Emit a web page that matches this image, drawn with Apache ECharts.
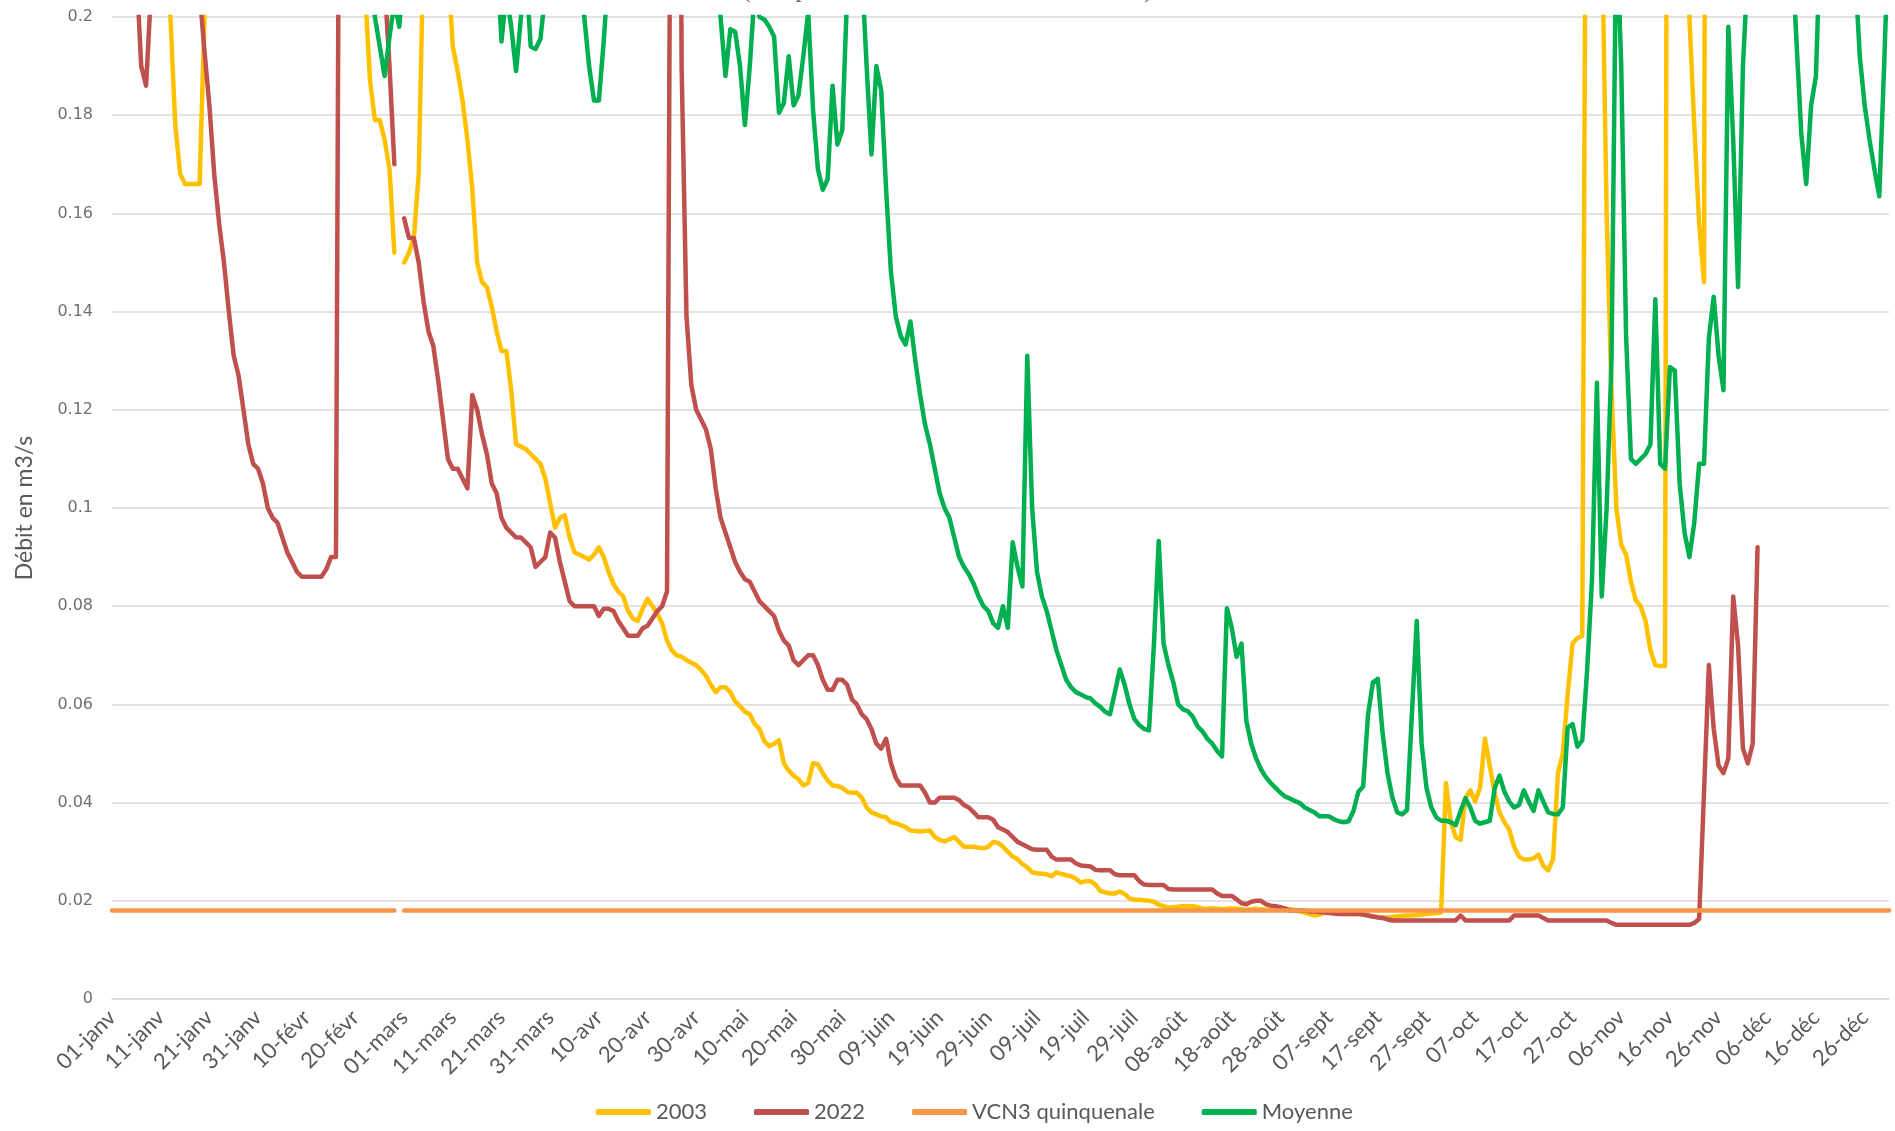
<!DOCTYPE html>
<html>
<head>
    <meta charset="utf-8">
    <title>Débits journaliers</title>
    <script src="https://cdn.jsdelivr.net/npm/echarts@6.0.0/dist/echarts.min.js"></script>
    <style>
        html, body { margin: 0; padding: 0; background: #ffffff; }
        #chart { width: 1895px; height: 1131px; }
    </style>
</head>
<body>
<div id="chart"></div>
<script>
    // mois de l'année (bissextile : le 29-févr est présent, sans valeur pour 2003 / 2022)
    var monthNames = ['janv', 'févr', 'mars', 'avr', 'mai', 'juin', 'juil', 'août', 'sept', 'oct', 'nov', 'déc'];
    var monthDays = [31, 29, 31, 30, 31, 30, 31, 31, 30, 31, 30, 31];

    var seriesNames = ['2003', '2022', 'VCN3 quinquenale', 'Moyenne'];

    // débits journaliers en m3/s (01-janv -> 31-déc), 10 valeurs par ligne
    var q2003 = [
        0.32, 0.3, 0.29, 0.28, 0.27, 0.26, 0.26, 0.25, 0.24, 0.24,
        0.235, 0.225, 0.2, 0.178, 0.168, 0.166, 0.166, 0.166, 0.166, 0.2,
        0.24, 0.28, 0.32, 0.36, 0.4, 0.42, 0.4, 0.38, 0.36, 0.34,
        0.33, 0.32, 0.31, 0.3, 0.3, 0.29, 0.28, 0.28, 0.27, 0.27,
        0.26, 0.26, 0.25, 0.25, 0.24, 0.24, 0.235, 0.23, 0.23, 0.225,
        0.22, 0.215, 0.205, 0.187, 0.179, 0.179, 0.175, 0.169, 0.152, null,
        0.15, 0.152, 0.155, 0.168, 0.215, 0.26, 0.28, 0.27, 0.24, 0.21,
        0.194, 0.189, 0.183, 0.175, 0.165, 0.15, 0.146, 0.145, 0.141, 0.136,
        0.132, 0.132, 0.124, 0.113, 0.1125, 0.112, 0.111, 0.11, 0.109, 0.106,
        0.101, 0.096, 0.098, 0.0985, 0.094, 0.091, 0.0905, 0.09, 0.0895, 0.0905,
        0.092, 0.09, 0.087, 0.0845, 0.083, 0.082, 0.079, 0.0775, 0.077, 0.0795,
        0.0815, 0.08, 0.0785, 0.0765, 0.073, 0.071, 0.07, 0.0697, 0.069, 0.0685,
        0.068, 0.067, 0.0658, 0.064, 0.0625, 0.0635, 0.0635, 0.0625, 0.0606, 0.0596,
        0.0585, 0.058, 0.056, 0.055, 0.0525, 0.0515, 0.052, 0.0527, 0.048, 0.0465,
        0.0455, 0.0448, 0.0435, 0.044, 0.048, 0.0478, 0.046, 0.0445, 0.0435, 0.0434,
        0.043, 0.0422, 0.042, 0.042, 0.041, 0.039, 0.038, 0.0376, 0.0372, 0.037,
        0.036, 0.0358, 0.0354, 0.035, 0.0343, 0.0342, 0.0341, 0.0342, 0.0343, 0.033,
        0.0324, 0.0321, 0.0325, 0.033, 0.032, 0.031, 0.031, 0.031, 0.0308, 0.0307,
        0.031, 0.032, 0.0318, 0.031, 0.03, 0.029, 0.0285, 0.0275, 0.0268, 0.0258,
        0.0256, 0.0255, 0.0254, 0.025, 0.0258, 0.0255, 0.0252, 0.025, 0.0245, 0.0237,
        0.024, 0.024, 0.0233, 0.022, 0.0217, 0.0215, 0.0215, 0.0219, 0.0214, 0.0205,
        0.0202, 0.0202, 0.0201, 0.02, 0.0198, 0.0192, 0.0189, 0.0186, 0.0187, 0.0188,
        0.0189, 0.0189, 0.0189, 0.0187, 0.0184, 0.0184, 0.0185, 0.0184, 0.0183, 0.0184,
        0.0185, 0.0184, 0.0183, 0.0182, 0.0183, 0.0184, 0.0183, 0.0182, 0.0182, 0.0183,
        0.0184, 0.0184, 0.0183, 0.0181, 0.0178, 0.0176, 0.0173, 0.017, 0.0172, 0.0176,
        0.0178, 0.0176, 0.0174, 0.0173, 0.0173, 0.0173, 0.0173, 0.0172, 0.017, 0.0168,
        0.0167, 0.0166, 0.0166, 0.0167, 0.0168, 0.0169, 0.017, 0.017, 0.0171, 0.0172,
        0.0173, 0.0174, 0.0175, 0.0176, 0.044, 0.036, 0.033, 0.0324, 0.041, 0.0425,
        0.0402, 0.043, 0.053, 0.0475, 0.042, 0.038, 0.036, 0.0345, 0.031, 0.029,
        0.0284, 0.0284, 0.0286, 0.0294, 0.0271, 0.0262, 0.0285, 0.046, 0.05, 0.062,
        0.0724, 0.0735, 0.074, 0.3, 0.34, 0.3, 0.22, 0.16, 0.124, 0.1,
        0.0925, 0.0905, 0.085, 0.0812, 0.08, 0.077, 0.071, 0.068, 0.0678, 0.0678,
        0.55, 0.45, 0.4, 0.35, 0.2, 0.178, 0.158, 0.146, 0.55, 0.5,
        0.46, 0.42, 0.4, 0.38, 0.36, 0.34, 0.33, 0.32, 0.31, 0.3,
        0.3, 0.29, 0.29, 0.28, 0.28, 0.27, 0.27, 0.26, 0.26, 0.26,
        0.25, 0.25, 0.25, 0.24, 0.24, 0.24, 0.24, 0.23, 0.23, 0.23,
        0.23, 0.23, 0.22, 0.22, 0.22, 0.22
    ];

    var q2022 = [
        0.33, 0.31, 0.29, 0.27, 0.25, 0.21, 0.19, 0.186, 0.205, 0.24,
        0.28, 0.3, 0.31, 0.3, 0.28, 0.26, 0.24, 0.225, 0.205, 0.193,
        0.182, 0.168, 0.158, 0.15, 0.14, 0.131, 0.127, 0.12, 0.113, 0.109,
        0.108, 0.105, 0.1, 0.098, 0.097, 0.094, 0.091, 0.089, 0.087, 0.086,
        0.086, 0.086, 0.086, 0.086, 0.0875, 0.09, 0.09, 0.32, 0.36, 0.4,
        0.38, 0.34, 0.3, 0.27, 0.25, 0.23, 0.207, 0.19, 0.17, null,
        0.159, 0.155, 0.155, 0.15, 0.142, 0.136, 0.133, 0.126, 0.118, 0.11,
        0.108, 0.108, 0.106, 0.104, 0.123, 0.12, 0.115, 0.111, 0.105, 0.103,
        0.098, 0.096, 0.095, 0.094, 0.094, 0.093, 0.092, 0.088, 0.089, 0.09,
        0.095, 0.094, 0.089, 0.085, 0.081, 0.08, 0.08, 0.08, 0.08, 0.08,
        0.078, 0.0795, 0.0795, 0.079, 0.077, 0.0755, 0.074, 0.074, 0.074, 0.0755,
        0.076, 0.0775, 0.079, 0.08, 0.083, 0.3, 0.4, 0.19, 0.139, 0.125,
        0.12, 0.118, 0.116, 0.112, 0.104, 0.098, 0.095, 0.092, 0.089, 0.087,
        0.0855, 0.085, 0.083, 0.081, 0.08, 0.079, 0.078, 0.075, 0.073, 0.072,
        0.069, 0.068, 0.069, 0.07, 0.07, 0.068, 0.065, 0.063, 0.063, 0.065,
        0.065, 0.064, 0.061, 0.06, 0.058, 0.057, 0.055, 0.052, 0.051, 0.053,
        0.048, 0.045, 0.0435, 0.0435, 0.0435, 0.0435, 0.0435, 0.042, 0.04, 0.04,
        0.041, 0.041, 0.041, 0.041, 0.0405, 0.0395, 0.039, 0.038, 0.037, 0.037,
        0.037, 0.0365, 0.035, 0.0345, 0.034, 0.033, 0.032, 0.0315, 0.031, 0.0305,
        0.0304, 0.0304, 0.0304, 0.029, 0.0284, 0.0284, 0.0284, 0.0284, 0.0276, 0.0272,
        0.0271, 0.027, 0.0263, 0.0262, 0.0262, 0.0262, 0.0254, 0.0252, 0.0252, 0.0252,
        0.0252, 0.024, 0.0233, 0.0232, 0.0232, 0.0232, 0.0232, 0.0224, 0.0223, 0.0223,
        0.0223, 0.0223, 0.0223, 0.0223, 0.0223, 0.0223, 0.0223, 0.0215, 0.021, 0.021,
        0.021, 0.0203, 0.0195, 0.0193, 0.0198, 0.02, 0.02, 0.0193, 0.019, 0.0189,
        0.0187, 0.0184, 0.018, 0.018, 0.018, 0.018, 0.0178, 0.0178, 0.0177, 0.0176,
        0.0175, 0.0174, 0.0173, 0.0173, 0.0173, 0.0173, 0.0173, 0.0172, 0.017, 0.0168,
        0.0166, 0.0165, 0.0162, 0.016, 0.016, 0.016, 0.016, 0.016, 0.016, 0.016,
        0.016, 0.016, 0.016, 0.016, 0.016, 0.016, 0.016, 0.017, 0.016, 0.016,
        0.016, 0.016, 0.016, 0.016, 0.016, 0.016, 0.016, 0.016, 0.017, 0.017,
        0.017, 0.017, 0.017, 0.017, 0.0165, 0.016, 0.016, 0.016, 0.016, 0.016,
        0.016, 0.016, 0.016, 0.016, 0.016, 0.016, 0.016, 0.016, 0.0155, 0.0151,
        0.0151, 0.0151, 0.0151, 0.0151, 0.0151, 0.0151, 0.0151, 0.0151, 0.0151, 0.0151,
        0.0151, 0.0151, 0.0151, 0.0151, 0.0151, 0.0155, 0.0163, 0.042, 0.068, 0.055,
        0.0475, 0.046, 0.049, 0.082, 0.072, 0.051, 0.048, 0.052, 0.092, null,
        null, null, null, null, null, null, null, null, null, null,
        null, null, null, null, null, null, null, null, null, null,
        null, null, null, null, null, null
    ];

    var qVcn3 = [
        0.018, 0.018, 0.018, 0.018, 0.018, 0.018, 0.018, 0.018, 0.018, 0.018,
        0.018, 0.018, 0.018, 0.018, 0.018, 0.018, 0.018, 0.018, 0.018, 0.018,
        0.018, 0.018, 0.018, 0.018, 0.018, 0.018, 0.018, 0.018, 0.018, 0.018,
        0.018, 0.018, 0.018, 0.018, 0.018, 0.018, 0.018, 0.018, 0.018, 0.018,
        0.018, 0.018, 0.018, 0.018, 0.018, 0.018, 0.018, 0.018, 0.018, 0.018,
        0.018, 0.018, 0.018, 0.018, 0.018, 0.018, 0.018, 0.018, 0.018, null,
        0.018, 0.018, 0.018, 0.018, 0.018, 0.018, 0.018, 0.018, 0.018, 0.018,
        0.018, 0.018, 0.018, 0.018, 0.018, 0.018, 0.018, 0.018, 0.018, 0.018,
        0.018, 0.018, 0.018, 0.018, 0.018, 0.018, 0.018, 0.018, 0.018, 0.018,
        0.018, 0.018, 0.018, 0.018, 0.018, 0.018, 0.018, 0.018, 0.018, 0.018,
        0.018, 0.018, 0.018, 0.018, 0.018, 0.018, 0.018, 0.018, 0.018, 0.018,
        0.018, 0.018, 0.018, 0.018, 0.018, 0.018, 0.018, 0.018, 0.018, 0.018,
        0.018, 0.018, 0.018, 0.018, 0.018, 0.018, 0.018, 0.018, 0.018, 0.018,
        0.018, 0.018, 0.018, 0.018, 0.018, 0.018, 0.018, 0.018, 0.018, 0.018,
        0.018, 0.018, 0.018, 0.018, 0.018, 0.018, 0.018, 0.018, 0.018, 0.018,
        0.018, 0.018, 0.018, 0.018, 0.018, 0.018, 0.018, 0.018, 0.018, 0.018,
        0.018, 0.018, 0.018, 0.018, 0.018, 0.018, 0.018, 0.018, 0.018, 0.018,
        0.018, 0.018, 0.018, 0.018, 0.018, 0.018, 0.018, 0.018, 0.018, 0.018,
        0.018, 0.018, 0.018, 0.018, 0.018, 0.018, 0.018, 0.018, 0.018, 0.018,
        0.018, 0.018, 0.018, 0.018, 0.018, 0.018, 0.018, 0.018, 0.018, 0.018,
        0.018, 0.018, 0.018, 0.018, 0.018, 0.018, 0.018, 0.018, 0.018, 0.018,
        0.018, 0.018, 0.018, 0.018, 0.018, 0.018, 0.018, 0.018, 0.018, 0.018,
        0.018, 0.018, 0.018, 0.018, 0.018, 0.018, 0.018, 0.018, 0.018, 0.018,
        0.018, 0.018, 0.018, 0.018, 0.018, 0.018, 0.018, 0.018, 0.018, 0.018,
        0.018, 0.018, 0.018, 0.018, 0.018, 0.018, 0.018, 0.018, 0.018, 0.018,
        0.018, 0.018, 0.018, 0.018, 0.018, 0.018, 0.018, 0.018, 0.018, 0.018,
        0.018, 0.018, 0.018, 0.018, 0.018, 0.018, 0.018, 0.018, 0.018, 0.018,
        0.018, 0.018, 0.018, 0.018, 0.018, 0.018, 0.018, 0.018, 0.018, 0.018,
        0.018, 0.018, 0.018, 0.018, 0.018, 0.018, 0.018, 0.018, 0.018, 0.018,
        0.018, 0.018, 0.018, 0.018, 0.018, 0.018, 0.018, 0.018, 0.018, 0.018,
        0.018, 0.018, 0.018, 0.018, 0.018, 0.018, 0.018, 0.018, 0.018, 0.018,
        0.018, 0.018, 0.018, 0.018, 0.018, 0.018, 0.018, 0.018, 0.018, 0.018,
        0.018, 0.018, 0.018, 0.018, 0.018, 0.018, 0.018, 0.018, 0.018, 0.018,
        0.018, 0.018, 0.018, 0.018, 0.018, 0.018, 0.018, 0.018, 0.018, 0.018,
        0.018, 0.018, 0.018, 0.018, 0.018, 0.018, 0.018, 0.018, 0.018, 0.018,
        0.018, 0.018, 0.018, 0.018, 0.018, 0.018, 0.018, 0.018, 0.018, 0.018,
        0.018, 0.018, 0.018, 0.018, 0.018, 0.018
    ];

    var qMoyenne = [
        0.45, 0.5, 0.48, 0.46, 0.44, 0.45, 0.47, 0.5, 0.52, 0.5,
        0.48, 0.46, 0.44, 0.42, 0.43, 0.45, 0.44, 0.42, 0.4, 0.39,
        0.38, 0.37, 0.36, 0.36, 0.35, 0.35, 0.34, 0.34, 0.33, 0.33,
        0.32, 0.32, 0.31, 0.31, 0.3, 0.3, 0.3, 0.29, 0.29, 0.28,
        0.28, 0.28, 0.3, 0.33, 0.35, 0.33, 0.31, 0.3, 0.28, 0.27,
        0.26, 0.25, 0.235, 0.215, 0.2, 0.194, 0.188, 0.196, 0.203, 0.198,
        0.21, 0.23, 0.26, 0.29, 0.32, 0.35, 0.37, 0.38, 0.36, 0.34,
        0.32, 0.3, 0.29, 0.28, 0.27, 0.26, 0.25, 0.24, 0.23, 0.215,
        0.195, 0.205, 0.198, 0.189, 0.2, 0.21, 0.194, 0.1935, 0.1955, 0.205,
        0.24, 0.28, 0.3, 0.28, 0.26, 0.24, 0.22, 0.2, 0.19, 0.183,
        0.183, 0.195, 0.21, 0.24, 0.27, 0.3, 0.33, 0.35, 0.34, 0.32,
        0.3, 0.28, 0.3, 0.33, 0.35, 0.34, 0.32, 0.3, 0.28, 0.26,
        0.25, 0.24, 0.23, 0.22, 0.21, 0.2, 0.188, 0.1975, 0.197, 0.19,
        0.178, 0.19, 0.205, 0.2, 0.1995, 0.198, 0.196, 0.1805, 0.1825, 0.192,
        0.182, 0.184, 0.192, 0.201, 0.181, 0.169, 0.1648, 0.167, 0.186, 0.174,
        0.177, 0.205, 0.22, 0.24, 0.21, 0.19, 0.172, 0.19, 0.185, 0.165,
        0.148, 0.139, 0.135, 0.1333, 0.138, 0.13, 0.123, 0.117, 0.113, 0.108,
        0.103, 0.1, 0.098, 0.094, 0.09, 0.088, 0.0865, 0.0845, 0.082, 0.08,
        0.079, 0.0765, 0.0756, 0.08, 0.0756, 0.093, 0.088, 0.084, 0.131, 0.1,
        0.087, 0.082, 0.079, 0.075, 0.071, 0.068, 0.065, 0.0635, 0.0625, 0.062,
        0.0615, 0.0612, 0.0602, 0.0595, 0.0585, 0.058, 0.0625, 0.0671, 0.064, 0.06,
        0.057, 0.0558, 0.055, 0.0547, 0.072, 0.0933, 0.0724, 0.068, 0.0645, 0.06,
        0.059, 0.0586, 0.0575, 0.0555, 0.0545, 0.053, 0.052, 0.0505, 0.0494, 0.0796,
        0.0756, 0.0697, 0.0724, 0.0566, 0.052, 0.049, 0.0468, 0.0452, 0.044, 0.043,
        0.042, 0.0412, 0.0408, 0.0403, 0.0399, 0.039, 0.0385, 0.038, 0.0372, 0.0372,
        0.0372, 0.0366, 0.0362, 0.036, 0.0362, 0.0383, 0.0422, 0.0433, 0.058, 0.0645,
        0.0652, 0.054, 0.046, 0.041, 0.038, 0.0376, 0.0385, 0.058, 0.077, 0.052,
        0.043, 0.039, 0.037, 0.0363, 0.0363, 0.036, 0.0354, 0.0383, 0.0409, 0.039,
        0.0363, 0.0357, 0.036, 0.0363, 0.0429, 0.0455, 0.0422, 0.0402, 0.039, 0.0395,
        0.0425, 0.0402, 0.0383, 0.0425, 0.0402, 0.038, 0.0377, 0.0376, 0.039, 0.0553,
        0.056, 0.0514, 0.0527, 0.067, 0.0855, 0.1255, 0.082, 0.1, 0.13, 0.22,
        0.19, 0.135, 0.11, 0.109, 0.11, 0.111, 0.113, 0.1425, 0.109, 0.108,
        0.1287, 0.128, 0.105, 0.095, 0.09, 0.097, 0.109, 0.109, 0.1346, 0.143,
        0.131, 0.124, 0.198, 0.175, 0.145, 0.19, 0.21, 0.26, 0.3, 0.32,
        0.3, 0.28, 0.26, 0.25, 0.23, 0.215, 0.195, 0.176, 0.166, 0.182,
        0.188, 0.22, 0.26, 0.3, 0.3, 0.28, 0.26, 0.24, 0.21, 0.192,
        0.182, 0.175, 0.169, 0.1635, 0.19, 0.22
    ];

    var seriesColors = ['#FFC000', '#C0504D', '#F79646', '#00B050'];

    // libellés jour-mois : 01-janv, 02-janv, ...
    var days = [];
    for (var m = 0; m < 12; m++) {
        for (var d = 1; d <= monthDays[m]; d++) {
            days.push((d < 10 ? '0' + d : '' + d) + '-' + monthNames[m]);
        }
    }

    var values = [q2003, q2022, qVcn3, qMoyenne];

    var myChart = echarts.init(document.getElementById('chart'));
    myChart.setOption({
        animation: false,
        backgroundColor: '#ffffff',
        title: {
            text: '(comparaison des années 2003 et 2022)',
            left: 'center',
            top: -28,
            textStyle: {
                fontFamily: 'Liberation Serif',
                fontSize: 26,
                fontWeight: 'normal',
                color: '#595959'
            }
        },
        legend: {
            data: seriesNames,
            left: 591,
            top: 1096,
            icon: 'roundRect',
            itemWidth: 55,
            itemHeight: 6,
            itemGap: 47,
            textStyle: {
                fontFamily: 'Lato',
                fontSize: 22,
                color: '#595959'
            }
        },
        grid: {
            left: 112,
            right: 6,
            top: 17,
            bottom: 132
        },
        xAxis: {
            type: 'category',
            boundaryGap: false,
            data: days,
            axisTick: { show: false },
            axisLine: { lineStyle: { color: '#d9d9d9', width: 1.5 } },
            axisLabel: {
                interval: function (index) { return index % 10 === 0; },
                rotate: 45,
                margin: 15,
                fontFamily: 'Lato',
                fontSize: 22,
                color: '#595959'
            },
            splitLine: { show: false }
        },
        yAxis: {
            type: 'value',
            min: 0,
            max: 0.2,
            interval: 0.02,
            name: 'Débit en m3/s',
            nameLocation: 'middle',
            nameGap: 76,
            nameTextStyle: {
                fontFamily: 'Lato',
                fontSize: 23,
                color: '#595959'
            },
            axisLine: { show: false },
            axisTick: { show: false },
            axisLabel: {
                margin: 19,
                fontFamily: 'DejaVu Sans',
                fontSize: 16,
                color: '#6f6f6f'
            },
            splitLine: { lineStyle: { color: '#d9d9d9', width: 1.5 } }
        },
        series: seriesNames.map(function (name, i) {
            return {
                name: name,
                type: 'line',
                data: values[i],
                showSymbol: false,
                symbol: 'none',
                connectNulls: false,
                clip: true,
                color: seriesColors[i],
                lineStyle: { width: 4.5, color: seriesColors[i], cap: 'round', join: 'round' }
            };
        })
    });
</script>
</body>
</html>
